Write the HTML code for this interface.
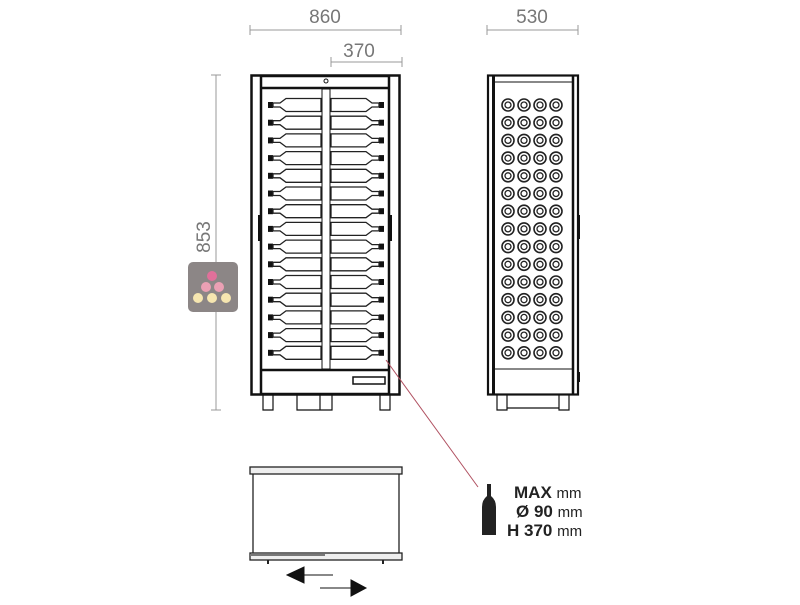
<!DOCTYPE html>
<html><head><style>body{margin:0;background:#fff}</style></head><body>
<svg width="800" height="600" viewBox="0 0 800 600" xmlns="http://www.w3.org/2000/svg" font-family="Liberation Sans, sans-serif">
<defs>
<g id="bl"><rect x="268" y="-3" width="5" height="6" fill="#111"/><path d="M273,-2 H280 L286,-6.5 H321 V6.5 H286 L280,2 H273 Z" fill="#fff" stroke="#222" stroke-width="1.3"/></g>
<g id="ci"><circle r="6" fill="#fff" stroke="#222" stroke-width="1.6"/><circle r="3" fill="#fff" stroke="#222" stroke-width="1.3"/></g>
</defs>
<g fill="#777" font-size="19">
<text x="325" y="23" text-anchor="middle">860</text>
<text x="532" y="23" text-anchor="middle">530</text>
<text x="359" y="57" text-anchor="middle">370</text>
<text transform="translate(210,237) rotate(-90)" text-anchor="middle">853</text>
</g>
<g stroke="#999" stroke-width="1" fill="none">
<path d="M250,30H401M250,25V35M401,25V35"/>
<path d="M487,30H578M487,25V35M578,25V35"/>
<path d="M331,62H402M331,57V67M402,57V67"/>
<path d="M216,75V410M211,75H221M211,410H221"/>
</g>
<!-- front -->
<g stroke="#111" fill="none">
<rect x="251.5" y="75.5" width="148" height="319" stroke-width="2.5"/>
<rect x="261" y="76" width="128" height="318" stroke-width="2.5"/>
<line x1="262" y1="88" x2="388" y2="88" stroke-width="2.5"/>
<circle cx="326" cy="81" r="2" stroke-width="1"/>
<rect x="322" y="89" width="8" height="280" stroke-width="1" fill="#fff"/>
<line x1="262" y1="370" x2="388" y2="370" stroke-width="2.5"/>
<rect x="353" y="377" width="32" height="7" stroke-width="1.5"/>
<path d="M263,394V410H273V394M297,394V410H332V394M320,394V410M380,394V410H390V394" stroke-width="1.2"/>
<rect x="258" y="215" width="3" height="26" fill="#111" stroke="none"/>
<rect x="389" y="215" width="3" height="26" fill="#111" stroke="none"/>
</g>
<g>
<use href="#bl" y="105"/><use href="#bl" y="122.7"/><use href="#bl" y="140.4"/><use href="#bl" y="158.1"/><use href="#bl" y="175.8"/><use href="#bl" y="193.5"/><use href="#bl" y="211.2"/><use href="#bl" y="228.9"/><use href="#bl" y="246.6"/><use href="#bl" y="264.3"/><use href="#bl" y="282"/><use href="#bl" y="299.7"/><use href="#bl" y="317.4"/><use href="#bl" y="335.1"/><use href="#bl" y="352.8"/>
</g>
<g transform="translate(652,0) scale(-1,1)">
<use href="#bl" y="105"/><use href="#bl" y="122.7"/><use href="#bl" y="140.4"/><use href="#bl" y="158.1"/><use href="#bl" y="175.8"/><use href="#bl" y="193.5"/><use href="#bl" y="211.2"/><use href="#bl" y="228.9"/><use href="#bl" y="246.6"/><use href="#bl" y="264.3"/><use href="#bl" y="282"/><use href="#bl" y="299.7"/><use href="#bl" y="317.4"/><use href="#bl" y="335.1"/><use href="#bl" y="352.8"/>
</g>
<!-- side -->
<g stroke="#111" fill="none">
<rect x="488" y="75.5" width="90" height="319" stroke-width="2.2"/>
<line x1="493.5" y1="76" x2="493.5" y2="394" stroke-width="3"/>
<line x1="573" y1="76" x2="573" y2="394" stroke-width="2.5"/>
<line x1="495" y1="82" x2="572" y2="82" stroke-width="1"/>
<line x1="495" y1="369" x2="572" y2="369" stroke-width="1"/>
<rect x="578" y="215" width="2" height="24" fill="#111" stroke="none"/>
<rect x="578" y="372" width="2" height="10" fill="#111" stroke="none"/>
<path d="M497,395V410H507V395M559,395V410H569V395M507,408H559" stroke-width="1.2"/>
</g>
<g id="col">
<use href="#ci" x="508" y="105"/><use href="#ci" x="508" y="122.7"/><use href="#ci" x="508" y="140.4"/><use href="#ci" x="508" y="158.1"/><use href="#ci" x="508" y="175.8"/><use href="#ci" x="508" y="193.5"/><use href="#ci" x="508" y="211.2"/><use href="#ci" x="508" y="228.9"/><use href="#ci" x="508" y="246.6"/><use href="#ci" x="508" y="264.3"/><use href="#ci" x="508" y="282"/><use href="#ci" x="508" y="299.7"/><use href="#ci" x="508" y="317.4"/><use href="#ci" x="508" y="335.1"/><use href="#ci" x="508" y="352.8"/>
</g>
<use href="#col" x="16"/><use href="#col" x="32"/><use href="#col" x="48"/>
<!-- logo -->
<rect x="188" y="262" width="50" height="50" rx="5" fill="#8c8686"/>
<circle cx="212" cy="276" r="5" fill="#e0709a"/>
<circle cx="206" cy="287" r="5" fill="#eba0b4"/><circle cx="219" cy="287" r="5" fill="#eba0b4"/>
<circle cx="198" cy="298" r="5" fill="#f6e6b0"/><circle cx="212" cy="298" r="5" fill="#f6e6b0"/><circle cx="226" cy="298" r="5" fill="#f6e6b0"/>
<line x1="386" y1="360" x2="478" y2="487" stroke="#b05060" stroke-width="1"/>
<!-- top view -->
<g stroke="#222" fill="none" stroke-width="1.3">
<rect x="250" y="467" width="152" height="7" fill="#eee"/>
<path d="M253,474V553M399,474V553"/>
<rect x="250" y="553" width="152" height="7" fill="#eee"/>
<line x1="250" y1="555" x2="325" y2="555" stroke="#777" stroke-width="2"/>
<path d="M268,560V564M383,560V564" stroke-width="2"/>
</g>
<path d="M287,575L304,567V583Z M304,575H333 M320,588H351 M351,580L366,588L351,596Z" fill="#111" stroke="#111" stroke-width="1"/>
<path d="M487,484H491V496Q496,500 496,507V535H482V507Q482,500 487,496Z" fill="#222"/>
<g font-size="17" font-weight="bold" fill="#222">
<text x="514" y="498">MAX <tspan font-weight="normal" font-size="15">mm</tspan></text>
<text x="516" y="517">Ø 90 <tspan font-weight="normal" font-size="15">mm</tspan></text>
<text x="507" y="536">H 370 <tspan font-weight="normal" font-size="15">mm</tspan></text>
</g>
</svg>
</body></html>
